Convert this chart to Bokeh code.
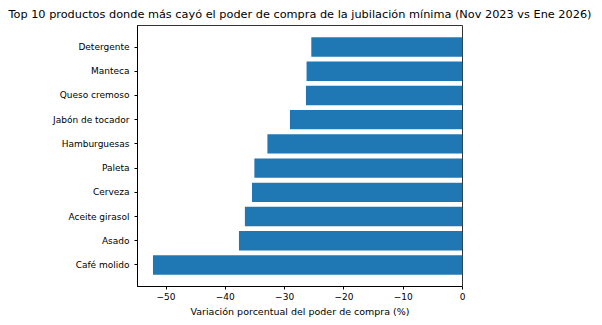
from bokeh.plotting import figure
from bokeh.models import Range1d, FixedTicker
from bokeh.embed import file_html
from bokeh.resources import INLINE

productos = ["Café molido", "Asado", "Aceite girasol", "Cerveza", "Paleta",
             "Hamburguesas", "Jabón de tocador", "Queso cremoso", "Manteca", "Detergente"]
variacion = [-52.2, -37.7, -36.7, -35.5, -35.1, -32.9, -29.1, -26.4, -26.3, -25.5]
x_ticks = [-50, -40, -30, -20, -10, 0]

pos = list(range(len(productos)))
xmin = min(variacion) * 1.05

p = figure(width=602, height=325, output_backend="svg", toolbar_location=None,
           x_range=Range1d(xmin, 0), y_range=Range1d(-0.89, len(productos) - 1 + 0.89),
           title="Top 10 productos donde más cayó el poder de compra de la jubilación mínima (Nov 2023 vs Ene 2026)",
           min_border_left=137, min_border_right=140, min_border_top=25, min_border_bottom=39)

p.hbar(y=pos, left=0, right=variacion, height=0.8, fill_color="#1f77b4", line_color=None)

p.title.text_font = "DejaVu Sans"
p.title.text_font_size = "11.3px"
p.title.text_font_style = "normal"
p.title.align = "center"
p.title.text_color = "black"

p.xgrid.visible = False
p.ygrid.visible = False
p.outline_line_color = "#333333"
p.outline_line_width = 1
p.background_fill_color = "white"
p.border_fill_color = "white"

p.xaxis.ticker = FixedTicker(ticks=x_ticks)
p.yaxis.ticker = FixedTicker(ticks=pos)
p.yaxis.major_label_overrides = {i: n for i, n in enumerate(productos)}
p.xaxis.major_label_overrides = {t: ("\u2212" + str(-t) if t < 0 else str(t)) for t in x_ticks}
p.xaxis.axis_label = "Variación porcentual del poder de compra (%)"

for ax in (p.xaxis, p.yaxis):
    ax.major_label_text_font = "DejaVu Sans"
    ax.major_label_text_font_size = "9px"
    ax.major_label_text_color = "black"
    ax.axis_label_text_font = "DejaVu Sans"
    ax.axis_label_text_font_size = "9.5px"
    ax.axis_label_text_font_style = "normal"
    ax.axis_label_text_color = "black"
    ax.minor_tick_line_color = None
    ax.major_tick_in = 0
    ax.major_tick_out = 3
    ax.major_tick_line_color = "black"
    ax.axis_line_color = "black"
    ax.major_label_standoff = 3
p.yaxis.major_label_standoff = 5
p.xaxis.axis_label_standoff = 3

open("out.html", "w").write(file_html(p, INLINE))
